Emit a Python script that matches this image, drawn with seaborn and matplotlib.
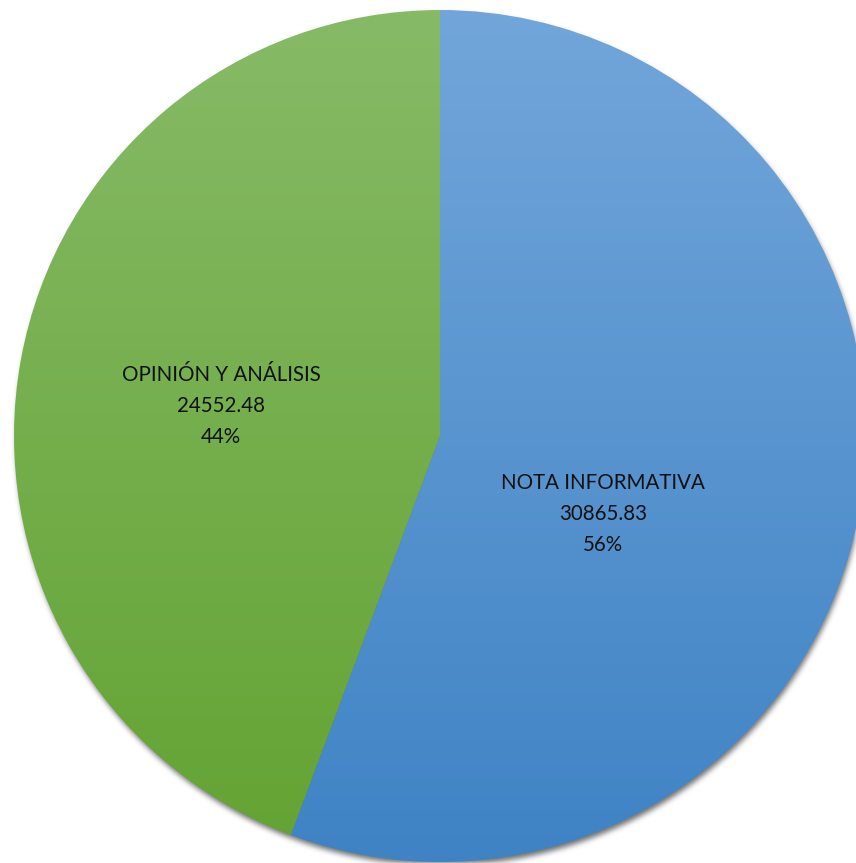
import numpy as np
import matplotlib
matplotlib.use("Agg")
import matplotlib.pyplot as plt
import seaborn as sns

# data
categories = ["NOTA INFORMATIVA", "OPINIÓN Y ANÁLISIS"]
values = [30865.83, 24552.48]
percent_labels = ["56%", "44%"]

# gradient colours (top, bottom) per slice
top_colors = ["#72a6da", "#87ba67"]
bottom_colors = ["#3f83c5", "#63a332"]

W, H = 856, 863
CX, CY, R = 440, H - 436, 426
label_pos = [(603, H - 514), (221, H - 406)]

sns.set_theme(style="white")
plt.rcParams["font.family"] = ["Lato", "DejaVu Sans"]

fig = plt.figure(figsize=(W / 100, H / 100), dpi=100)
ax = fig.add_axes([0, 0, 1, 1])

wedges, _ = ax.pie(values, startangle=90, counterclock=False,
                   center=(CX, CY), radius=R, colors=["none", "none"],
                   wedgeprops=dict(linewidth=0))

# soft drop shadow under the pie
yy, xx = np.mgrid[0:H, 0:W]
dist = np.hypot(xx - (CX + 1), (H - yy) - (CY - 4))
shadow = np.clip((R + 2 - dist) / 6.0, 0, 1)
k = np.exp(-np.linspace(-2, 2, 13) ** 2)
k /= k.sum()
shadow = np.apply_along_axis(lambda r: np.convolve(r, k, mode="same"), 1, shadow)
shadow = np.apply_along_axis(lambda c: np.convolve(c, k, mode="same"), 0, shadow)
rgba = np.zeros((H, W, 4))
rgba[..., :3] = 0.3
rgba[..., 3] = shadow * 0.8
ax.imshow(rgba, extent=(0, W, 0, H), origin="upper", zorder=0.5)

# vertical gradient fills clipped to each wedge
for w, c_top, c_bot in zip(wedges, top_colors, bottom_colors):
    pal = sns.blend_palette([c_top, c_bot], n_colors=256)
    grad = np.array(pal)[:, None, :]
    im = ax.imshow(grad, extent=(CX - R, CX + R, CY - R, CY + R),
                   origin="upper", aspect="auto", zorder=1)
    im.set_clip_path(w)

for (x, y), cat, val, pct in zip(label_pos, categories, values, percent_labels):
    ax.text(x, y, f"{cat}\n{val:.2f}\n{pct}", ha="center", va="center",
            fontsize=14.8, color="#111111", linespacing=1.68, zorder=3)

ax.set_xlim(0, W)
ax.set_ylim(0, H)
ax.set_aspect("auto")
ax.axis("off")

fig.savefig("out.png", dpi=100)
plt.close(fig)
